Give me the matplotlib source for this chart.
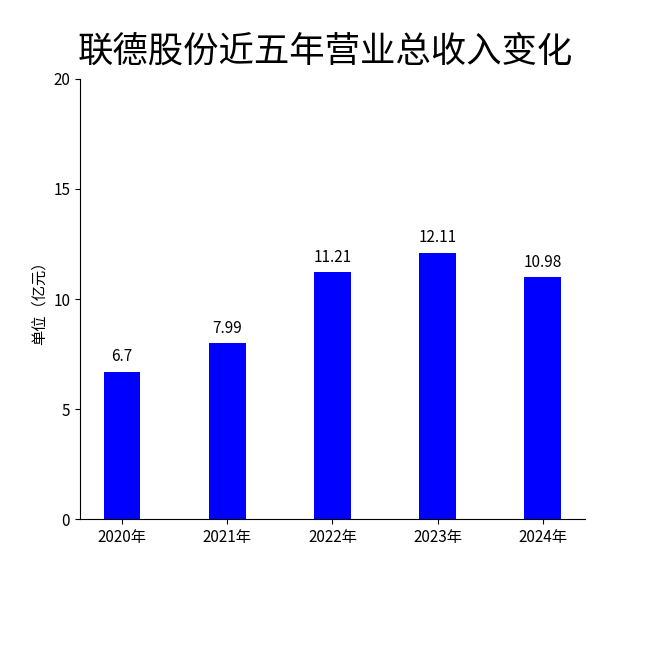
import matplotlib
matplotlib.use("Agg")
import matplotlib.pyplot as plt

years = ["2020年", "2021年", "2022年", "2023年", "2024年"]
revenue = [6.7, 7.99, 11.21, 12.11, 10.98]
labels = ["6.7", "7.99", "11.21", "12.11", "10.98"]

plt.rcParams['font.family'] = ['Noto Sans CJK SC', 'DejaVu Sans']

fig = plt.figure(figsize=(6.5, 6.5), dpi=100)
ax = fig.add_axes([0.123, 0.2015, 0.777, 0.677])
x = range(len(years))
ax.bar(x, revenue, width=0.35, color="#0000ff")
for i, (v, t) in enumerate(zip(revenue, labels)):
    ax.text(i, v + 0.3, t, ha="center", va="bottom", fontsize=11)
ax.set_xticks(list(x))
ax.set_xticklabels(years, fontsize=11)
ax.set_ylim(0, 20)
ax.set_yticks([0, 5, 10, 15, 20])
ax.tick_params(axis="y", labelsize=11)
ax.set_xlim(-0.4, 4.4)
ax.set_ylabel("单位（亿元）", fontsize=11)
ax.spines["top"].set_visible(False)
ax.spines["right"].set_visible(False)
fig.text(0.5, 0.92, "联德股份近五年营业总收入变化", ha="center", va="center", fontsize=25.5)
fig.savefig("out.png", dpi=100)
